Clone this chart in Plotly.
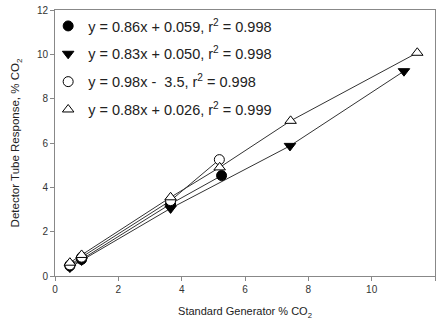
import plotly.graph_objects as go

# Data
s1_x = [0.47, 0.84, 3.65, 5.26]
s1_y = [0.45, 0.75, 3.25, 4.53]
s2_x = [0.47, 0.84, 3.65, 7.42, 11.02]
s2_y = [0.38, 0.70, 3.05, 5.87, 9.24]
s3_x = [0.47, 0.84, 3.65, 5.19]
s3_y = [0.50, 0.85, 3.40, 5.25]
s4_x = [0.47, 0.84, 3.65, 5.20, 7.44, 11.44]
s4_y = [0.60, 0.95, 3.55, 4.90, 7.00, 10.07]

labels = [
    "y = 0.86x + 0.059, r<sup>2</sup> = 0.998",
    "y = 0.83x + 0.050, r<sup>2</sup> = 0.998",
    "y = 0.98x -  3.5, r<sup>2</sup> = 0.998",
    "y = 0.88x + 0.026, r<sup>2</sup> = 0.999",
]
x_ticks = [0, 2, 4, 6, 8, 10, 12]
y_ticks = [0, 2, 4, 6, 8, 10, 12]

series = [
    (s1_x, s1_y, "circle", "black"),
    (s2_x, s2_y, "triangle-down", "black"),
    (s3_x, s3_y, "circle", "white"),
    (s4_x, s4_y, "triangle-up", "white"),
]

fig = go.Figure()
# lines
for xs, ys, sym, fill in series:
    fig.add_trace(go.Scatter(x=xs, y=ys, mode="lines",
                             line=dict(color="#333333", width=1),
                             showlegend=False, hoverinfo="skip"))
# markers
for i, (xs, ys, sym, fill) in enumerate(series):
    fig.add_trace(go.Scatter(x=xs, y=ys, mode="markers", name=labels[i],
                             legendgroup=f"g{i}",
                             marker=dict(symbol=sym, size=10, color=fill,
                                         line=dict(color="black", width=1))))

axis_common = dict(showline=True, linecolor="#888888", linewidth=1, mirror=True,
                   ticks="outside", ticklen=4, tickcolor="#888888",
                   showgrid=False, zeroline=False,
                   tickfont=dict(size=10, color="#333333"))

fig.update_layout(
    width=438, height=323,
    margin=dict(l=55, r=3, t=10, b=47),
    paper_bgcolor="white", plot_bgcolor="white",
    font=dict(family="Arial, Liberation Sans, sans-serif", color="#222222"),
    xaxis=dict(range=[0, 12], tickvals=x_ticks,
               title=dict(text="Standard Generator % CO<sub>2</sub>",
                          font=dict(size=11), standoff=13),
               **axis_common),
    yaxis=dict(range=[0, 12], tickvals=y_ticks,
               title=dict(text="Detector Tube Response, % CO<sub>2</sub>",
                          font=dict(size=11.5), standoff=14),
               **axis_common),
    legend=dict(x=-0.018, y=1.0, xanchor="left", yanchor="top",
                bgcolor="rgba(0,0,0,0)", font=dict(size=14.5, color="#222222"),
                tracegroupgap=6, itemsizing="trace"),
)

fig.write_html("out.html")
